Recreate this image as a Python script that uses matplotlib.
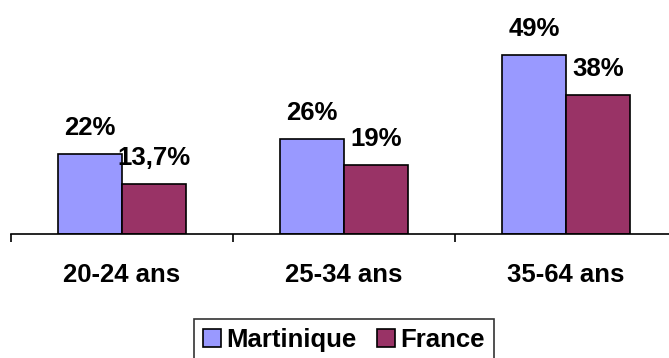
import matplotlib.pyplot as plt
import numpy as np

plt.rcParams['font.family'] = ['Liberation Sans', 'DejaVu Sans']
plt.rcParams['font.weight'] = 'bold'

categories = ['20-24 ans', '25-34 ans', '35-64 ans']
martinique = [22, 26, 49]
france = [13.7, 19, 38]
labels_martinique = ['22%', '26%', '49%']
labels_france = ['13,7%', '19%', '38%']

fig = plt.figure(figsize=(6.69, 3.58), dpi=100)
ax = fig.add_axes([11 / 669, 1 - 234 / 358, 666 / 669, 234 / 358])

x = np.arange(len(categories))
w = 0.288
b1 = ax.bar(x - w / 2, martinique, w, color='#9999FF', edgecolor='black', linewidth=1.2, label='Martinique')
b2 = ax.bar(x + w / 2, france, w, color='#993366', edgecolor='black', linewidth=1.2, label='France')

for bars, labs in [(b1, labels_martinique), (b2, labels_france)]:
    for r, t in zip(bars, labs):
        ax.annotate(t, (r.get_x() + r.get_width() / 2, r.get_height()),
                    xytext=(0, 13.5), textcoords='offset points',
                    ha='center', va='baseline', fontsize=18.5, fontweight='bold')

ax.set_xlim(-0.5, 2.5)
ax.set_ylim(0, 64)
for s in ['top', 'right', 'left']:
    ax.spines[s].set_visible(False)
ax.spines['bottom'].set_linewidth(1.2)
ax.set_yticks([])
ax.set_xticks(x)
ax.set_xticklabels(categories, fontsize=18.5, fontweight='bold')
ax.tick_params(axis='x', which='major', length=0, pad=21)
ax.set_xticks([-0.5, 0.5, 1.5, 2.5], minor=True)
ax.tick_params(axis='x', which='minor', length=6, width=1.2, direction='out')

leg = fig.legend(loc='upper left', bbox_to_anchor=(194 / 669, 1 - 319 / 358), ncol=2,
                 prop={'size': 18.5, 'weight': 'bold'}, frameon=True, fancybox=False,
                 edgecolor='black', handlelength=0.7, handleheight=0.7,
                 handletextpad=0.2, columnspacing=0.8, borderpad=0.35, borderaxespad=0)
leg.get_frame().set_linewidth(1.2)

fig.savefig('out.png', dpi=100)
